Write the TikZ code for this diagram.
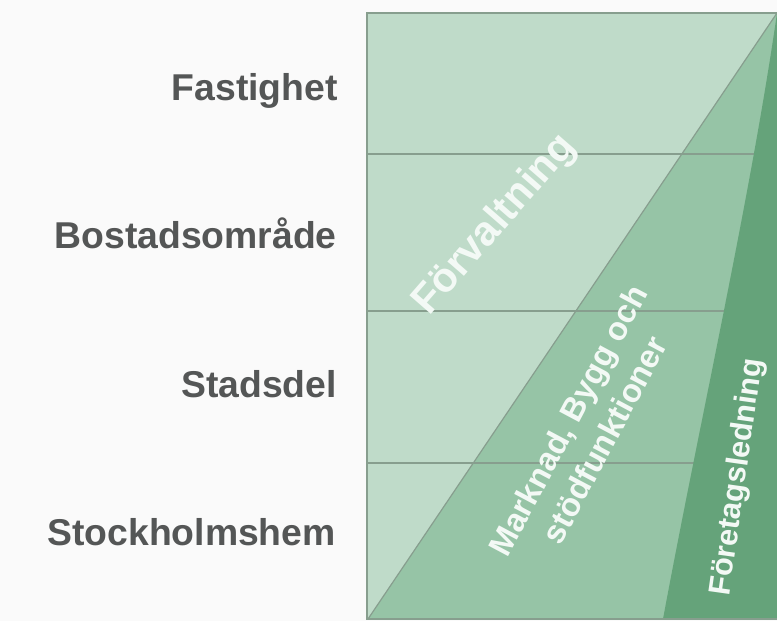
\documentclass[tikz,border=0pt]{standalone}
\usepackage{fontspec}
\setmainfont{Liberation Sans}
\usepackage{xcolor}
\definecolor{lightgreen}{RGB}{191, 219, 201}
\definecolor{midgreen}{RGB}{150, 196, 166}
\definecolor{darkgreen}{RGB}{101, 163, 122}
\definecolor{rulegray}{RGB}{135, 158, 142}
\definecolor{labelgray}{RGB}{84, 86, 86}
\definecolor{offwhite}{RGB}{243, 249, 245}

\begin{document}
\begin{tikzpicture}[x=0.75pt,y=0.75pt,yscale=-1,xscale=1,
  level/.style={anchor=base east,inner sep=0pt,text=labelgray,font=\bfseries\fontsize{28}{34}\selectfont},
  area/.style={inner sep=0pt,text=offwhite,font=\bfseries\fontsize{24.5}{31}\selectfont,align=center},
  rule/.style={draw=rulegray,line width=1.3pt}]
\useasboundingbox (0,0) rectangle (777,621);
\fill [white!98!black] (0,0) rectangle (777,621);
\clip (0,0) rectangle (777,621);

%Rectangle
\fill [lightgreen] (367,13) rectangle (790,619);
%Shape: Polygon
\fill [midgreen] (368,619) -- (777,13) -- (790,13) -- (790,619) -- cycle;
%Straight Lines
\draw [rule] (367,154) -- (777,154);
\draw [rule] (367,311) -- (777,311);
\draw [rule] (367,463) -- (777,463);
%Straight Lines
\draw [rule,line width=0.9pt] (368,619) -- (777,13);
%Curve Lines
\fill [darkgreen] (663,619) .. controls (700,420) and (750,200) .. (777,13) -- (790,13) -- (790,619) -- cycle;
%Rectangle
\draw [rule,line width=1.5pt] (790,13) -- (367,13) -- (367,619) -- (790,619);

% Text Node
\node [level] (fastighet) at (338,100) {Fastighet};
% Text Node
\node [level] (bostad) at (337,248) {Bostadsområde};
% Text Node
\node [level] (stadsdel) at (337,397) {Stadsdel};
% Text Node
\node [level] (stockholmshem) at (336,545) {Stockholmshem};

% Text Node
\node [area,rotate=49,font=\bfseries\fontsize{31}{36}\selectfont] (forvaltning) at (495,225) {Förvaltning};
% Text Node
\node [area,rotate=62] (marknad) at (586,430) {Marknad, Bygg och\\stödfunktioner};
% Text Node
\node [area,rotate=82,font=\bfseries\fontsize{23}{28}\selectfont] (ledning) at (738,477) {Företagsledning};

\end{tikzpicture}
\end{document}
